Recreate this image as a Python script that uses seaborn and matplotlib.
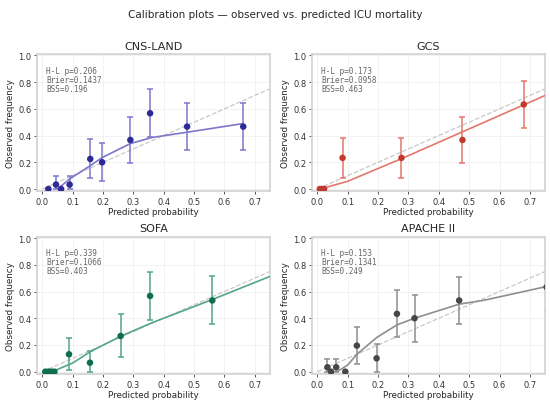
import numpy as np
import pandas as pd
import seaborn as sns
import matplotlib.pyplot as plt


# calibration bins (predicted, observed, CI low, CI high)
models = ['CNS-LAND', 'GCS', 'SOFA', 'APACHE II']

cns_pred = [0.020, 0.045, 0.062, 0.090, 0.158, 0.197, 0.290, 0.355, 0.477, 0.662]
cns_obs = [0.000, 0.033, 0.000, 0.033, 0.225, 0.200, 0.367, 0.567, 0.467, 0.467]
cns_lo = [0.000, 0.000, 0.000, 0.000, 0.080, 0.060, 0.195, 0.390, 0.290, 0.290]
cns_hi = [0.000, 0.095, 0.000, 0.095, 0.375, 0.345, 0.540, 0.745, 0.645, 0.645]
cns_fit_x = [0.050, 0.090, 0.158, 0.197, 0.290, 0.360, 0.477, 0.662]
cns_fit_y = [0.000, 0.075, 0.175, 0.235, 0.340, 0.385, 0.425, 0.490]

gcs_pred = [0.008, 0.015, 0.022, 0.083, 0.277, 0.478, 0.680]
gcs_obs = [0.000, 0.000, 0.000, 0.233, 0.233, 0.367, 0.633]
gcs_lo = [0.000, 0.000, 0.000, 0.080, 0.080, 0.195, 0.460]
gcs_hi = [0.000, 0.000, 0.000, 0.385, 0.385, 0.540, 0.805]
gcs_fit_x = [0.010, 0.100, 0.280, 0.480, 0.680, 0.750]
gcs_fit_y = [0.000, 0.058, 0.230, 0.430, 0.630, 0.700]

sofa_pred = [0.010, 0.020, 0.030, 0.040, 0.088, 0.157, 0.258, 0.355, 0.560]
sofa_obs = [0.000, 0.000, 0.000, 0.000, 0.130, 0.067, 0.267, 0.567, 0.533]
sofa_lo = [0.000, 0.000, 0.000, 0.000, 0.010, 0.000, 0.110, 0.390, 0.355]
sofa_hi = [0.000, 0.000, 0.000, 0.000, 0.250, 0.155, 0.430, 0.745, 0.715]
sofa_fit_x = [0.010, 0.045, 0.100, 0.160, 0.260, 0.360, 0.560, 0.750]
sofa_fit_y = [0.000, 0.012, 0.065, 0.152, 0.267, 0.365, 0.540, 0.713]

apache_pred = [0.033, 0.045, 0.062, 0.092, 0.130, 0.195, 0.262, 0.320, 0.467, 0.755]
apache_obs = [0.033, 0.000, 0.033, 0.000, 0.195, 0.100, 0.433, 0.400, 0.533, 0.633]
apache_lo = [0.000, 0.000, 0.000, 0.000, 0.055, 0.000, 0.260, 0.225, 0.355, 0.460]
apache_hi = [0.095, 0.000, 0.095, 0.000, 0.335, 0.210, 0.610, 0.575, 0.710, 0.805]
apache_fit_x = [0.065, 0.100, 0.130, 0.195, 0.262, 0.320, 0.467, 0.550, 0.760]
apache_fit_y = [0.000, 0.050, 0.130, 0.255, 0.350, 0.400, 0.505, 0.535, 0.640]

hl_p = ['0.206', '0.173', '0.339', '0.153']
brier = ['0.1437', '0.0958', '0.1066', '0.1341']
bss = ['0.196', '0.463', '0.403', '0.249']

point_colors = ['#2d2a97', '#c23a2e', '#0e6e4f', '#474747']
line_colors = ['#7d76cb', '#e3776b', '#53a686', '#8e8e8e']

bins = [
    (cns_pred, cns_obs, cns_lo, cns_hi, cns_fit_x, cns_fit_y),
    (gcs_pred, gcs_obs, gcs_lo, gcs_hi, gcs_fit_x, gcs_fit_y),
    (sofa_pred, sofa_obs, sofa_lo, sofa_hi, sofa_fit_x, sofa_fit_y),
    (apache_pred, apache_obs, apache_lo, apache_hi, apache_fit_x, apache_fit_y),
]

sns.set_theme(style="whitegrid", rc={
    "axes.edgecolor": "#d4d4d4",
    "grid.color": "#f0f0f0",
    "grid.linewidth": 0.6,
    "xtick.bottom": True,
    "ytick.left": True,
    "xtick.major.size": 2.5,
    "ytick.major.size": 2.5,
    "xtick.color": "#555555",
    "ytick.color": "#555555",
    "xtick.labelcolor": "#333333",
    "ytick.labelcolor": "#333333",
})
plt.rcParams['font.family'] = ['DejaVu Sans']

fig, axes = plt.subplots(2, 2, figsize=(5.5, 4.02), dpi=100)
fig.subplots_adjust(left=0.067, right=0.991, top=0.863, bottom=0.067,
                    wspace=0.18, hspace=0.33)

for i, ax in enumerate(axes.flat):
    pred, obs, lo, hi, fx, fy = bins[i]
    df = pd.DataFrame({'pred': pred, 'obs': obs})
    fit = pd.DataFrame({'x': fx, 'y': fy})

    ax.plot([0, 1], [0, 1], ls='--', color='#c8c8c8', lw=0.9, zorder=1)
    yerr = [np.array(obs) - np.array(lo), np.array(hi) - np.array(obs)]
    ax.errorbar(pred, obs, yerr=yerr, fmt='none', ecolor=line_colors[i],
                elinewidth=1.1, capsize=2.3, capthick=1.1, zorder=2)
    sns.lineplot(data=fit, x='x', y='y', ax=ax, color=line_colors[i],
                 lw=1.2, zorder=3)
    sns.scatterplot(data=df, x='pred', y='obs', ax=ax, color=point_colors[i],
                    s=22, edgecolor='none', zorder=4)

    ax.set_xlim(-0.018, 0.75)
    ax.set_ylim(-0.018, 1.01)
    ax.set_xticks(np.arange(0, 0.71, 0.1))
    ax.set_yticks(np.arange(0, 1.01, 0.2))
    ax.tick_params(labelsize=6, pad=1.5, width=0.7)
    ax.set_title(models[i], fontsize=8, pad=4)
    ax.set_xlabel('Predicted probability', fontsize=6.3, labelpad=1)
    ax.set_ylabel('Observed frequency', fontsize=6.3, labelpad=2)
    ax.text(0.04, 0.915, f'H-L p={hl_p[i]}\nBrier={brier[i]}\nBSS={bss[i]}',
            transform=ax.transAxes, va='top', ha='left', fontsize=5.6,
            family='DejaVu Sans Mono', color='#666666', linespacing=1.0)

fig.suptitle('Calibration plots — observed vs. predicted ICU mortality',
             fontsize=7.5, y=0.975)

plt.savefig('out.png', dpi=100)
